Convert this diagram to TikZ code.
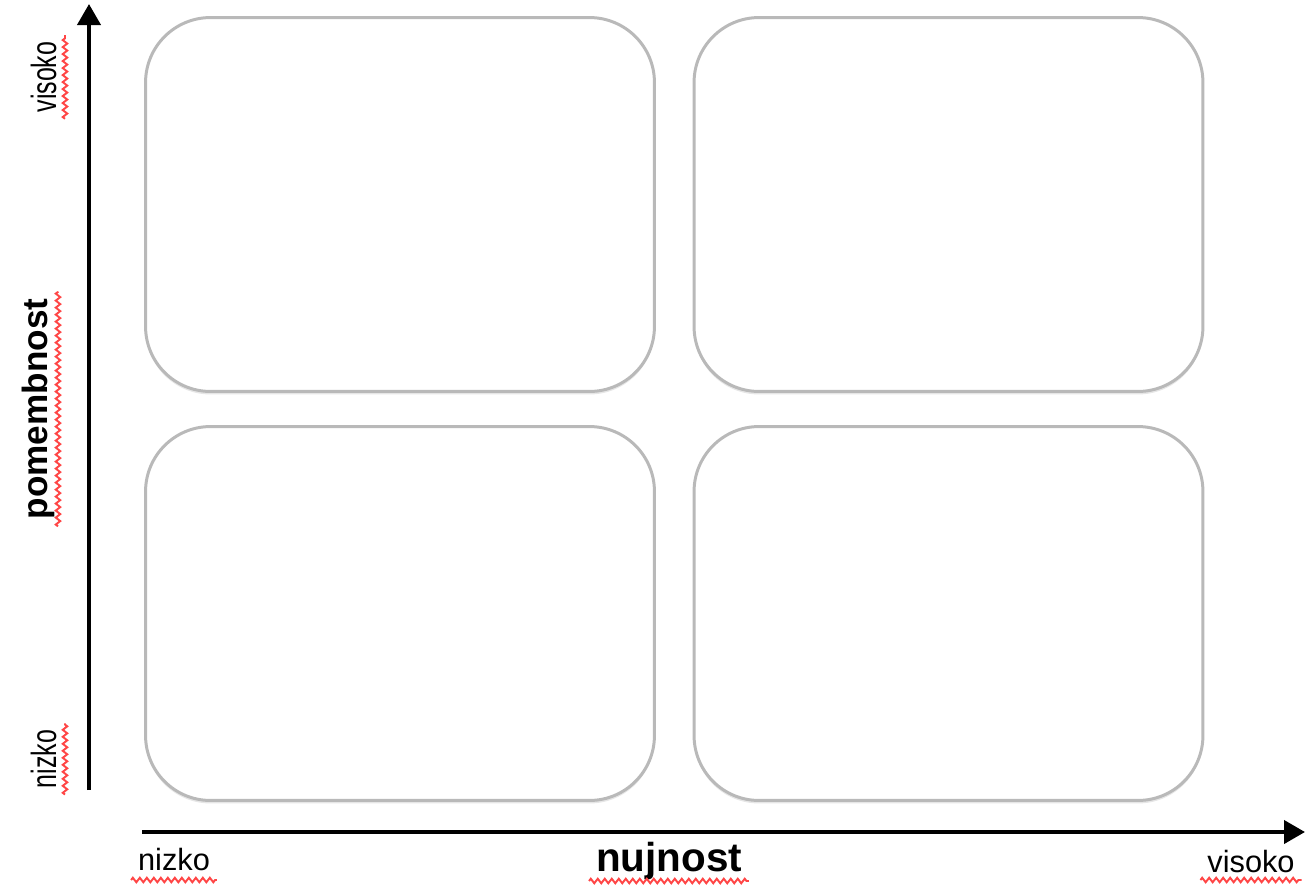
\documentclass[tikz,border=0pt]{standalone}
\usepackage{fontspec}
\setmainfont{Liberation Sans}
\usetikzlibrary{arrows.meta,shadows,decorations.pathmorphing}
\definecolor{qgray}{RGB}{185,185,185}
\definecolor{qred}{RGB}{255,70,70}

\begin{document}
\begin{tikzpicture}[x=0.02cm,y=-0.02cm,line width=2.3pt,>={Triangle[length=4.2mm,width=4.6mm]},
  quad/.style={draw=qgray,line width=1.7pt,fill=white,rounded corners=13mm,
    minimum width=101.8mm,minimum height=74.8mm,
    drop shadow={opacity=0.2,shadow xshift=0pt,shadow yshift=-0.6mm}},
  lbl/.style={font=\fontsize{17.5}{20}\selectfont,anchor=base,inner sep=0pt},
  vlbl/.style={font=\fontsize{20}{24}\selectfont,anchor=base,inner sep=0pt,rotate=90,xscale=0.71},
  ttl/.style={font=\bfseries\fontsize{#1}{24}\selectfont,anchor=base,inner sep=0pt},
  wavy/.style={qred,line width=1.1pt,decorate,decoration={zigzag,segment length=1.4mm,amplitude=0.45mm}}]
  \useasboundingbox (0,0) rectangle (1306,894);
  % quadrants
  \node[quad] (tl) at (400,204.5) {};
  \node[quad] (tr) at (948.5,204.5) {};
  \node[quad] (bl) at (400,613.5) {};
  \node[quad] (br) at (948.5,613.5) {};
  % axes
  \coordinate (vbot) at (89,790);
  \coordinate (vtop) at (89,4);
  \coordinate (hleft) at (142,832);
  \coordinate (hright) at (1305,832);
  \draw[->] (vbot) -- (vtop);
  \draw[->] (hleft) -- (hright);
  % labels
  \node[vlbl] (visokoV) at (56,77) {visoko};
  \node[vlbl] (nizkoV) at (56,759) {nizko};
  \node[ttl=20,rotate=90] (pomemb) at (48,409) {pomembnost};
  \node[lbl] (nizkoH) at (174,870) {nizko};
  \node[ttl=23] (nujn) at (669,871) {nujnost};
  \node[lbl] (visokoH) at (1251,872) {visoko};
  % spell-check marks
  \draw[wavy] ([xshift=1.8mm,yshift=-1mm]visokoV.base west) -- ([xshift=1.8mm,yshift=1mm]visokoV.base east);
  \draw[wavy] ([xshift=1.8mm,yshift=-1mm]nizkoV.base west) -- ([xshift=1.8mm,yshift=1mm]nizkoV.base east);
  \draw[wavy] ([xshift=2mm,yshift=-1mm]pomemb.base west) -- ([xshift=2mm,yshift=1mm]pomemb.base east);
  \draw[wavy] ([xshift=-1mm,yshift=-2mm]nizkoH.base west) -- ([xshift=1mm,yshift=-2mm]nizkoH.base east);
  \draw[wavy] ([xshift=-1mm,yshift=-2mm]nujn.base west) -- ([xshift=1mm,yshift=-2mm]nujn.base east);
  \draw[wavy] ([xshift=-1mm,yshift=-1.6mm]visokoH.base west) -- ([xshift=1mm,yshift=-1.6mm]visokoH.base east);
\end{tikzpicture}
\end{document}
